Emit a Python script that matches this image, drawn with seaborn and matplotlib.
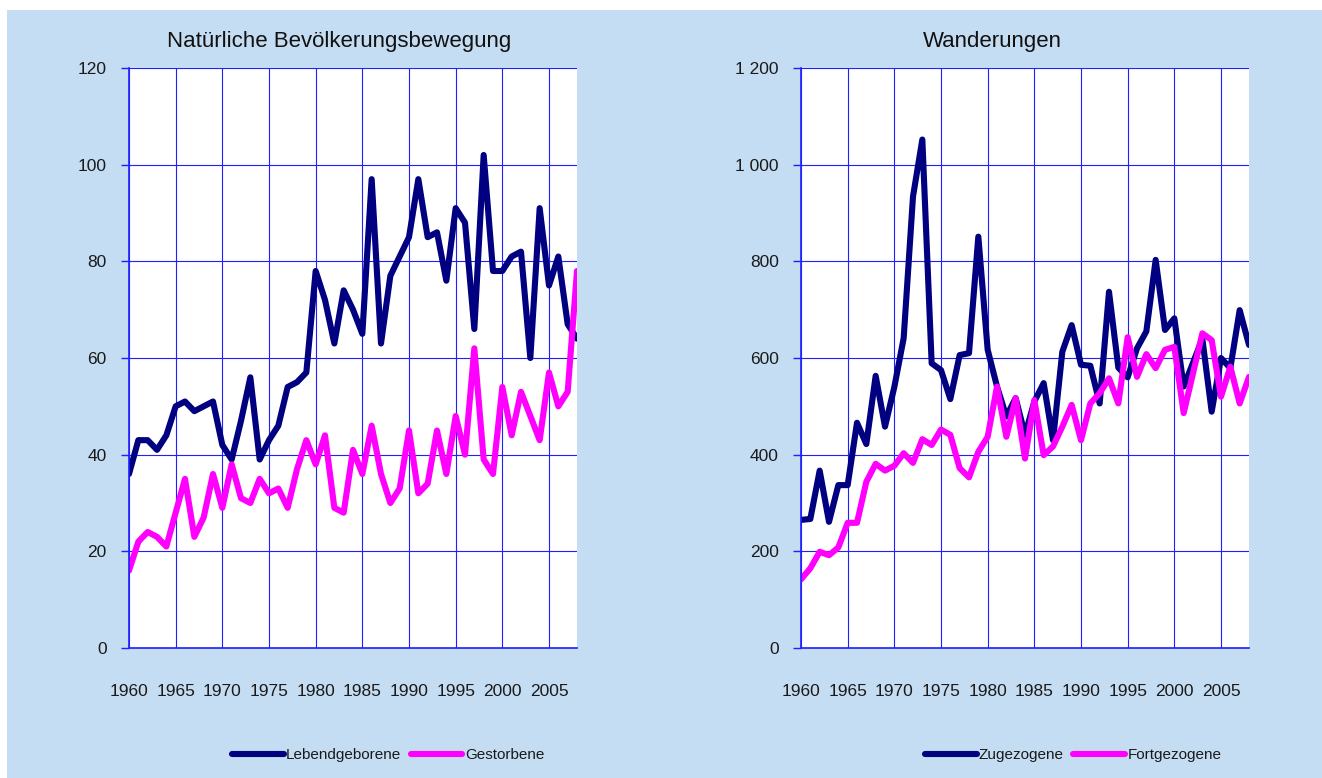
import pandas as pd
import seaborn as sns
import matplotlib.pyplot as plt
from matplotlib.patches import Rectangle
from matplotlib.lines import Line2D
from matplotlib.ticker import FuncFormatter, MultipleLocator

YEARS = list(range(1960, 2009))

LEBENDGEBORENE = [36, 43, 43, 41, 44, 50, 51, 49, 50, 51,
                  42, 39, 47, 56, 39, 43, 46, 54, 55, 57,
                  78, 72, 63, 74, 70, 65, 97, 63, 77, 81,
                  85, 97, 85, 86, 76, 91, 88, 66, 102, 78,
                  78, 81, 82, 60, 91, 75, 81, 67, 64]
GESTORBENE = [16, 22, 24, 23, 21, 28, 35, 23, 27, 36,
              29, 38, 31, 30, 35, 32, 33, 29, 37, 43,
              38, 44, 29, 28, 41, 36, 46, 36, 30, 33,
              45, 32, 34, 45, 36, 48, 40, 62, 39, 36,
              54, 44, 53, 48, 43, 57, 50, 53, 78]

ZUGEZOGENE = [265, 267, 367, 261, 337, 337, 466, 422, 563, 458,
              540, 641, 934, 1052, 589, 575, 515, 606, 610, 851,
              617, 541, 479, 517, 441, 510, 548, 430, 613, 668,
              586, 584, 506, 737, 580, 560, 620, 655, 803, 658,
              682, 541, 590, 640, 489, 600, 579, 699, 627]
FORTGEZOGENE = [142, 165, 199, 192, 208, 259, 259, 344, 381, 367,
                377, 403, 383, 432, 420, 452, 441, 372, 353, 406,
                437, 541, 437, 517, 392, 513, 399, 417, 458, 503,
                430, 506, 527, 558, 506, 643, 561, 608, 579, 617,
                623, 486, 568, 651, 637, 520, 582, 506, 561]

X_TICKS = list(range(1960, 2006, 5))

BG = "#C5DDF2"
NAVY = "#000080"
MAGENTA = "#FF00FF"
GRID = "#1F1FFF"
FONT = ["Liberation Sans", "DejaVu Sans"]

W, H = 1322, 778


def long_frame(names, series):
    rows = []
    for name, values in zip(names, series):
        for year, v in zip(YEARS, values):
            rows.append({"Jahr": year, "Wert": v, "Reihe": name})
    return pd.DataFrame(rows)


def thousands(v, pos):
    return f"{int(v):,}".replace(",", " ")


def draw_panel(fig, left_px, names, series, ymax, ystep, title, title_x, legend_x):
    ax = fig.add_axes([left_px / W, (H - 648) / H, 448 / W, 580 / H])
    ax.set_facecolor("white")
    df = long_frame(names, series)
    sns.lineplot(data=df, x="Jahr", y="Wert", hue="Reihe", hue_order=names,
                 palette=[NAVY, MAGENTA], linewidth=4.4, ax=ax, legend=False,
                 solid_joinstyle="round", solid_capstyle="round")

    ax.set_xlim(1960, 2008)
    ax.set_ylim(0, ymax)
    ax.set_xticks(X_TICKS)
    ax.yaxis.set_major_locator(MultipleLocator(ystep))
    ax.yaxis.set_major_formatter(FuncFormatter(thousands))
    ax.grid(True, color=GRID, linewidth=0.8)
    ax.set_axisbelow(True)
    ax.set_xlabel("")
    ax.set_ylabel("")

    for side in ["top", "right"]:
        ax.spines[side].set_visible(False)
    for side in ["left", "bottom"]:
        ax.spines[side].set_color(GRID)
        ax.spines[side].set_linewidth(1.2)

    ax.tick_params(axis="y", length=6, width=1, color=GRID, pad=10,
                   labelsize=12.5, labelcolor="#1a1a1a")
    ax.tick_params(axis="x", length=0, pad=26, labelsize=12.5, labelcolor="#1a1a1a")
    for lab in ax.get_xticklabels() + ax.get_yticklabels():
        lab.set_family(FONT)

    fig.text(title_x / W, 1 - 42 / H, title, ha="center", va="center",
             fontsize=16, family=FONT, color="#111111")

    handles = [Line2D([], [], color=c, linewidth=4.4, solid_capstyle="round")
               for c in [NAVY, MAGENTA]]
    leg = fig.legend(handles, names, loc="center", ncol=2, frameon=False,
                     bbox_to_anchor=(legend_x / W, 1 - 755 / H),
                     handlelength=3.4, handletextpad=0.15, columnspacing=0.6,
                     prop={"family": FONT, "size": 11})
    for t in leg.get_texts():
        t.set_color("#1a1a1a")
    return ax


def main():
    fig = plt.figure(figsize=(W / 100, H / 100), dpi=100, facecolor="white")
    fig.patches.append(Rectangle((7 / W, 0), 1 - 7 / W, 1 - 10 / H,
                                 transform=fig.transFigure, facecolor=BG,
                                 edgecolor="none", zorder=-10))

    draw_panel(fig, 129, ["Lebendgeborene", "Gestorbene"],
               [LEBENDGEBORENE, GESTORBENE], 120, 20,
               "Natürliche Bevölkerungsbewegung", 339, 388)
    draw_panel(fig, 801, ["Zugezogene", "Fortgezogene"],
               [ZUGEZOGENE, FORTGEZOGENE], 1200, 200,
               "Wanderungen", 992, 1073)

    fig.savefig("out.png", dpi=100, facecolor=fig.get_facecolor())


if __name__ == "__main__":
    main()
